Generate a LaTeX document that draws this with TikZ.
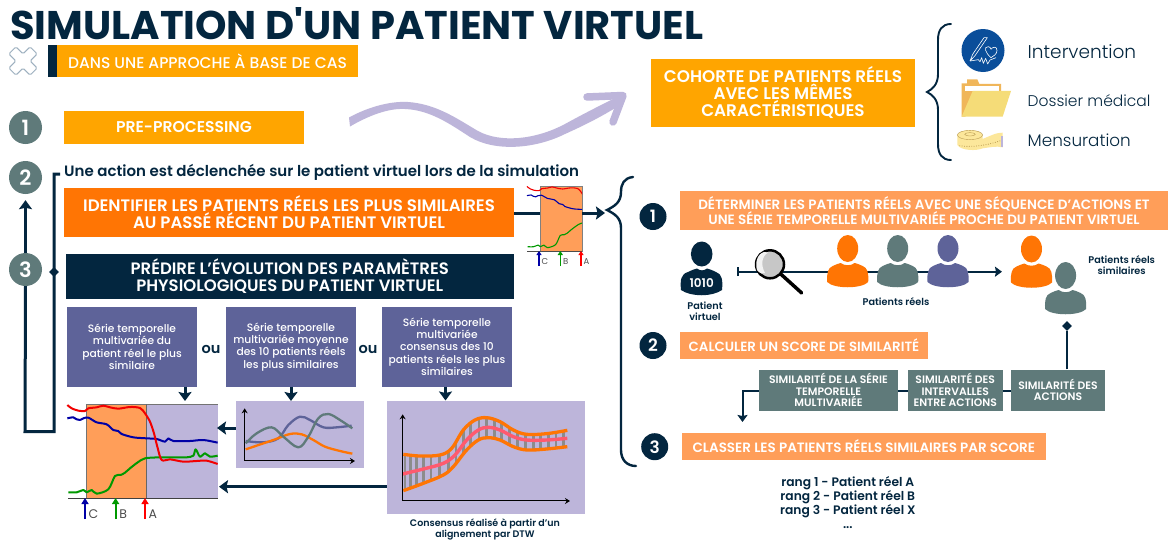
\documentclass[tikz,border=0pt]{standalone}
\usepackage{fontspec}
\setmainfont{Poppins}[BoldFont={Poppins SemiBold}]
\newfontfamily\fmed{Poppins Medium}
\newfontfamily\fhand{Poppins Light}
\newfontfamily\ftitle{Poppins Bold}
\usetikzlibrary{arrows.meta,shapes.geometric}
\definecolor{navy}{HTML}{03263F}
\definecolor{amber}{HTML}{FFA500}
\definecolor{deeporange}{HTML}{FF7504}
\definecolor{peach}{HTML}{FF9E59}
\definecolor{teal2}{HTML}{5F7A7A}
\definecolor{purp}{HTML}{5E6399}
\definecolor{lav}{HTML}{BDB5DA}
\definecolor{pinkr}{HTML}{FF5A6E}
\definecolor{iconblue}{HTML}{0A4E9A}
\definecolor{foldback}{HTML}{F0B65A}
\definecolor{foldfront}{HTML}{F5DC78}
\definecolor{tape}{HTML}{FCE79B}
\definecolor{tapeline}{HTML}{B89A50}
\definecolor{crossc}{HTML}{9DB0BF}
\tikzset{
 x=1pt,y=-1pt,
 conn/.style={draw=navy,line width=3pt},
 arr/.style={conn,-{Stealth[width=13pt,length=9pt,inset=1.5pt]}},
 zm/.style 2 args={xshift=#1pt,yshift=-#2pt,x=.3333pt,y=-.3333pt},
 numa/.style={circle,fill=teal2,text=white,minimum size=33pt,inner sep=0pt,font=\fontsize{21}{21}\selectfont\bfseries},
 numb/.style={circle,fill=navy,text=white,minimum size=27pt,inner sep=0pt,font=\fontsize{17}{17}\selectfont\bfseries},
 dia/.style={diamond,fill=navy,minimum size=10pt,inner sep=0pt},
 box/.style={inner sep=0pt,align=center,text=white},
 ttl/.style={text=navy,inner sep=0pt,align=center,font=\fontsize{#1}{11}\selectfont\bfseries},
 curve/.style={line width=#1,line join=round},
 axis/.style={draw=black,line width=1pt,{Stealth[width=6pt,length=5pt]}-{Stealth[width=6pt,length=5pt]}},
 hand/.style={text=navy,inner sep=0pt,anchor=west,font=\fontsize{#1}{#1}\selectfont\fhand},
}
\newcommand{\bx}[7]{%
 \pgfmathsetmacro\tmpcx{(#2+#4)/2}\pgfmathsetmacro\tmpcy{(#3+#5)/2}%
 \pgfmathsetmacro\tmpw{#4-#2}\pgfmathsetmacro\tmph{#5-#3}%
 \node[box,minimum width=\tmpw pt,minimum height=\tmph pt,#6] (#1) at (\tmpcx,\tmpcy) {#7};}
\newcommand{\person}[3]{% cx, top, colour
 \fill[#3] (#1,#2+13.5) ellipse [x radius=10.5pt,y radius=13.5pt];
 \fill[#3] (#1-20.5,#2+47) .. controls (#1-21,#2+38) and (#1-20,#2+33) .. (#1-15,#2+31)
  .. controls (#1-12,#2+29.5) and (#1-9,#2+28.5) .. (#1-7,#2+28) .. controls (#1-3,#2+31) and (#1+3,#2+31) .. (#1+7,#2+28)
  .. controls (#1+9,#2+28.5) and (#1+12,#2+29.5) .. (#1+15,#2+31) .. controls (#1+20,#2+33) and (#1+21,#2+38) .. (#1+20.5,#2+47)
  .. controls (#1+14,#2+54) and (#1-14,#2+54) .. (#1-20.5,#2+47) -- cycle;}
\newcommand{\ccurves}[1]{%
 \draw[green!60!black,curve=#1] plot[smooth,tension=.5] coordinates {(55,292)(80,292)(100,285)(110,292)(125,285)(140,296)(175,283)(195,243)(212,240)(225,233)(240,220)(262,203)(285,190)(330,187)(380,187)(410,187)(430,182)(437,163)(450,185)(465,175)(480,185)(503,182)};
 \draw[blue!65!black,curve=#1] plot[smooth,tension=.5] coordinates {(52,70)(70,67)(80,73)(90,75)(100,70)(115,68)(140,82)(170,88)(190,105)(205,108)(215,117)(250,127)(290,130)(320,132)(345,140)(355,130)(370,138)(420,138)(460,135)(503,143)};
 \draw[red!95!black,curve=#1] plot[smooth,tension=.5] coordinates {(52,30)(65,40)(85,47)(105,48)(115,40)(140,37)(160,32)(180,37)(205,41)(240,36)(270,39)(285,55)(300,80)(312,115)(322,155)(335,195)(360,193)(400,200)(440,198)(470,197)(503,207)};}
\begin{document}
\begin{tikzpicture}
\useasboundingbox (0,0) rectangle (1168,541);
\fill[white] (0,0) rectangle (1168,541);
% title
\node[anchor=west,inner sep=0pt,text=navy,font=\fontsize{40}{40}\selectfont\ftitle] (title) at (10,24) {SIMULATION D'UN PATIENT VIRTUEL};
% cross
\draw[draw=crossc,fill=white,line width=1pt,rounded corners=1.5pt,rotate around={45:(23,61)}]
 (18,46)--(28,46)--(28,56)--(38,56)--(38,66)--(28,66)--(28,76)--(18,76)--(18,66)--(8,66)--(8,56)--(18,56)--cycle;
% banner
\fill[navy] (48,45) rectangle (57,77);
\bx{banner}{57}{45}{358}{77}{fill=amber,font=\fontsize{15.5}{17}\selectfont\fmed}{DANS UNE APPROCHE À BASE DE CAS}
\node[numa] (n1) at (25.5,127.5) {1};
\bx{pre}{64}{111}{304}{143.5}{fill=amber,font=\fontsize{15.6}{17}\selectfont\bfseries}{PRE-PROCESSING}
\node[numa] (n2) at (25.5,177.5) {2};
\node[numa] (n3) at (25.5,269.5) {3};
\node[anchor=west,inner sep=0pt,text=navy,font=\fontsize{15}{17}\selectfont\bfseries] (action) at (64,172.5) {Une action est déclenchée sur le patient virtuel lors de la simulation};
\bx{identify}{64}{188}{514}{237}{fill=deeporange,font=\fontsize{16.6}{17}\selectfont\bfseries}{IDENTIFIER LES PATIENTS RÉELS LES PLUS SIMILAIRES\\AU PASSÉ RÉCENT DU PATIENT VIRTUEL}
\bx{predict}{65.5}{253.5}{514}{298.5}{fill=navy,font=\fontsize{16.5}{17}\selectfont\bfseries}{PRÉDIRE L'ÉVOLUTION DES PARAMÈTRES\\PHYSIOLOGIQUES DU PATIENT VIRTUEL}
% left loop
\coordinate (la) at (25,431.5); \coordinate (lb) at (54,431.5); \coordinate (lc) at (54,174); \coordinate (ld) at (60,174);
\draw[conn] (n3.south) -- (la) -- (lb) -- (lc) -- (ld);
\node[dia] (d1) at (54,272) {};
\draw[arr,shorten >=6pt] (n3.north) -- (n2.south);
% purple text boxes
\bx{s1}{67}{307}{197}{386.5}{fill=purp,font=\fontsize{10.7}{12.3}\selectfont\fmed}{Série temporelle\\multivariée du\\patient réel le plus\\similaire}
\bx{s2}{226}{307}{356}{386.5}{fill=purp,font=\fontsize{10.7}{12.3}\selectfont\fmed}{Série temporelle\\multivariée moyenne\\des 10 patients réels\\les plus similaires}
\bx{s3}{382}{307}{512}{386.5}{fill=purp,font=\fontsize{10.7}{12.3}\selectfont\fmed}{Série temporelle\\multivariée\\consensus des 10\\patients réels les plus\\similaires}
\node[ttl=14.5] (ou1) at (211,349) {ou};
\node[ttl=14.5] (ou2) at (368,349) {ou};
% big chart
\fill[peach] (86,404) rectangle (146,498);
\fill[lav] (146,404) rectangle (218,498);
\draw[black!55,line width=1pt] (86,498)--(86,404)--(218,404);
\draw[black!60,line width=1pt] (146,404)--(146,498);
\coordinate (bw) at (68,498); \coordinate (be) at (218,498);
\draw[black!75,line width=.8pt] (bw)--(be);
\begin{scope}[zm={50}{395}]
\ccurves{2pt}
\end{scope}
\foreach \xx/\cc/\ll in {85/blue!65!black/C,115.6/green!60!black/B,145/red/A}{
 \coordinate (t\ll) at (\xx,498);
 \coordinate (f\ll) at (\xx,519);
 \draw[draw=\cc,line width=2pt,-{Stealth[width=7pt,length=6pt,inset=0pt]}] (f\ll)--(t\ll);
 \node[anchor=west,inner sep=0pt,text=black!70,font=\fontsize{12.5}{12.5}\selectfont] (l\ll) at (\xx+3.5,514) {\ll};
}
% small chart
\fill[peach] (540,186) rectangle (582,251);
\draw[black!50,line width=.8pt] (540,186) rectangle (582,251);
\coordinate (smallw) at (540,213); \coordinate (smalle) at (582,213);
\draw[conn] (identify.east |- smallw) -- (smallw);
\coordinate (d0) at (605,213);
\draw[arr] (smalle) -- (d0);
\begin{scope}
\clip (520,180) rectangle (582,255);
\begin{scope}[xshift=514.87pt,yshift=-179.56pt,x=.2327pt,y=-.23pt]
\ccurves{1.1pt}
\end{scope}
\end{scope}
\draw[black!70,line width=.7pt] (527,251)--(582,251);
\foreach \xx/\cc/\ll in {539/blue!65!black/C,560.3/green!60!black/B,581/red/A}{
 \coordinate (st\ll) at (\xx,251);
 \coordinate (sf\ll) at (\xx,266);
 \draw[draw=\cc,line width=1.4pt,-{Stealth[width=5pt,length=4pt,inset=0pt]}] (sf\ll)--(st\ll);
 \node[anchor=west,inner sep=0pt,text=black!70,font=\fontsize{8.5}{8.5}\selectfont] (sl\ll) at (\xx+2.5,262) {\ll};
}
% small lavender chart
\bx{mid}{236}{401}{364}{467.5}{fill=lav}{}
\begin{scope}[zm={230}{395}]
\draw[axis] (44,40)--(44,198)--(375,198);
\draw[purp,curve=2.3pt] plot[smooth,tension=.6] coordinates {(47,138)(100,142)(145,130)(175,90)(210,65)(240,75)(280,97)(320,97)(365,92)};
\draw[deeporange,curve=2.3pt] plot[smooth,tension=.6] coordinates {(47,163)(130,135)(180,117)(215,118)(250,135)(285,155)(330,168)(367,176)};
\draw[teal2,curve=2.3pt] plot[smooth,tension=.6] coordinates {(47,145)(80,115)(125,97)(160,125)(205,157)(235,125)(265,70)(295,57)(330,75)(367,100)};
\end{scope}
% big lavender chart
\bx{cons}{387}{400.5}{585}{514}{fill=lav}{}
\begin{scope}[zm={380}{395}]
\begin{scope}
\clip plot[smooth,tension=.6] coordinates {(70,178)(120,183)(180,180)(215,160)(250,105)(285,75)(320,68)(360,80)(400,105)(440,118)(500,116)(562,106)}
 -- plot[smooth,tension=.6] coordinates {(562,155)(500,162)(440,165)(400,155)(360,135)(325,128)(295,135)(260,165)(220,215)(190,240)(130,265)(70,287)} -- cycle;
\foreach \u in {75,92,110,131,153,178,205,228,250,272,297,320,343,365,388,412,437,460,482,505,528,550}
 \draw[black!45,line width=2.8pt] (\u,50)--(\u,300);
\end{scope}
\draw[deeporange,curve=3.3pt] plot[smooth,tension=.6] coordinates {(70,178)(120,183)(180,180)(215,160)(250,105)(285,75)(320,68)(360,80)(400,105)(440,118)(500,116)(562,106)};
\draw[deeporange,curve=3.3pt] plot[smooth,tension=.6] coordinates {(70,287)(130,265)(190,240)(220,215)(260,165)(295,135)(325,128)(360,135)(400,155)(440,165)(500,162)(562,155)};
\draw[pinkr,curve=3.4pt] plot[smooth,tension=.6] coordinates {(68,237)(130,222)(190,205)(225,180)(260,135)(295,105)(325,97)(360,105)(400,125)(440,135)(500,135)(562,130)};
\draw[axis] (68,58)--(68,318)--(570,318);
\end{scope}
\node[ttl=9.5] (caption) at (485,529.5) {Consensus réalisé à partir d'un\\alignement par DTW};
% arrows down
\coordinate (ta) at (185,401); \coordinate (fa) at (185,386.5);
\draw[arr] (fa) -- (ta);
\coordinate (tm) at (291,401);
\draw[arr] (s2.south) -- (tm);
\coordinate (tb) at (445.5,400.5); \coordinate (fb) at (445.5,386.5);
\draw[arr] (fb) -- (tb);
\coordinate (h1) at (217,428);
\draw[arr] (mid.west |- h1) -- (h1);
\coordinate (h2) at (219,486.7);
\draw[arr] (cons.west |- h2) -- (h2);
% swoosh
\fill[lav] (349,117.5) .. controls (370,106) and (392,101) .. (408,102) .. controls (436,104) and (456,118) .. (478,131)
 .. controls (500,143) and (535,140) .. (565,124) .. controls (585,113) and (605,103) .. (619,96)
 -- (623,103) .. controls (605,115) and (585,125) .. (565,134) .. controls (535,149) and (495,152) .. (470,137)
 .. controls (450,124) and (430,110) .. (405,109) .. controls (388,108) and (368,116) .. (350,126.5) -- cycle;
\draw[lav,line width=7.5pt,line join=round,line cap=round] (587,97) -- (623,95.5) -- (613,122);
% cohort
\bx{cohort}{651}{59}{915}{126.5}{fill=amber,font=\fontsize{16.8}{17}\selectfont\bfseries}{COHORTE DE PATIENTS RÉELS\\AVEC LES MÊMES\\CARACTÉRISTIQUES}
% brace 2
\draw[navy,line width=1.9pt,line cap=round] (951,24) .. controls (942,24) and (938,30) .. (938,40) -- (938,74) .. controls (938,84) and (933,89) .. (927,92)
 .. controls (933,95) and (938,100) .. (938,110) -- (938,144) .. controls (938,154) and (942,160) .. (951,160);
% icons
\node[circle,fill=iconblue,minimum size=43pt,inner sep=0pt] (ic1) at (983,50.5) {};
\begin{scope}[zm={920}{15}]
\draw[white,line width=.6pt,line join=round] (192,68)--(202,68)--(165,122)--(150,138)--(158,118)--cycle;
\draw[white,line width=.6pt,line join=round] (213,128) .. controls (195,112) and (190,95) .. (205,95) .. controls (210,95) and (212,99) .. (213,103) .. controls (216,96) and (232,92) .. (231,107) .. controls (230,118) and (220,124) .. (213,128);
\draw[white,line width=.6pt,line join=round] (150,138)--(175,134)--(180,140)--(185,128)--(190,145)--(197,130)--(203,147)--(210,135)--(228,128);
% folder
\fill[foldback] (125,205)--(141,205)--(141,193)--(172,193)--(178,207)--(243,207)--(243,232)--(135,305)--(125,305)--cycle;
\fill[white] (135,212)--(238,212)--(238,228)--(135,228)--cycle;
\fill[foldfront] (158,228)--(273,228)--(248,305)--(125,305)--cycle;
% tape
\fill[tape] (112,362) .. controls (112,340) and (188,340) .. (188,362) -- (188,372) .. controls (205,365) and (230,352) .. (248,353) -- (248,397) .. controls (230,392) and (205,398) .. (188,400) .. controls (170,408) and (125,408) .. (112,390) -- cycle;
\draw[tapeline,line width=.4pt] (150,360) ellipse [x radius=12.6pt,y radius=4.6pt];
\draw[tapeline,line width=.4pt] (150,358) ellipse [x radius=5.3pt,y radius=1.7pt];
\draw[tapeline,line width=.8pt,dash pattern=on .8pt off 1.6pt] (118,392) .. controls (150,398) and (200,392) .. (242,377);
\fill[lav] (243,362) rectangle (250,397);
\end{scope}
\node[hand=18.5] (tint) at (1027.5,52) {Intervention};
\node[hand=15.5] (tdos) at (1027.5,100.7) {Dossier médical};
\node[hand=16.8] (tmen) at (1027.5,140.7) {Mensuration};
% big brace
\draw[navy,line width=2.4pt,line cap=round] (633,177) .. controls (624,178) and (621,184) .. (621,192) .. controls (621,202) and (615,206) .. (607,210)
 .. controls (615,214) and (621,218) .. (621,228) -- (621,450) .. controls (621,460) and (627,466) .. (636,466);
% right section
\node[numb] (r1) at (653,216.5) {1};
\bx{rb1}{680}{191}{1168}{230}{fill=peach,font=\fontsize{13.5}{14}\selectfont\bfseries}{DÉTERMINER LES PATIENTS RÉELS AVEC UNE SÉQUENCE D'ACTIONS ET\\UNE SÉRIE TEMPORELLE MULTIVARIÉE PROCHE DU PATIENT VIRTUEL}
% search line
\coordinate (sa) at (737,271.7);
\coordinate (sb) at (1002,271.7);
\draw[draw=navy,line width=2pt,{Bar[width=9pt]}-{Stealth[width=10pt,length=7pt,inset=1pt]}] (sa) -- (sb);
% virtual patient
\fill[navy] (701.7,254) ellipse [x radius=10.8pt,y radius=12.5pt];
\fill[navy] (681,290) .. controls (680,280) and (681,274) .. (688,272) .. controls (692,270) and (695,269) .. (697,268.5) .. controls (700,271) and (704,271) .. (707,268.5) .. controls (709,269) and (712,270) .. (716,272) .. controls (722,274) and (723,280) .. (722,290) .. controls (712,297) and (691,297) .. (681,290) -- cycle;
\node[inner sep=0pt,text=white,font=\fontsize{12}{12}\selectfont\bfseries] (code) at (701.7,283) {1010};
\node[ttl=9.7] (pv) at (705,311) {Patient\\virtuel};
% magnifier
\coordinate (mg) at (770,264.3); \coordinate (mh) at (801.7,293);
\draw[black,line width=3.5pt,line cap=round] (mg) -- (mh);
\node[circle,draw=black,line width=2.5pt,fill=black!22,minimum size=28pt,inner sep=0pt] (lens) at (mg) {};
\fill[black!5] (764,252) .. controls (757,254) and (755,263) .. (757,270) .. controls (760,274) and (763,274) .. (765,273) .. controls (761,266) and (761,257) .. (768,252.5) -- cycle;
\person{847.7}{235}{deeporange}
\person{897.7}{235}{teal2}
\person{948}{235}{purp}
\node[ttl=9.7] (pr) at (896,301.7) {Patients réels};
\person{1031.5}{235.5}{deeporange}
\person{1065.6}{262}{teal2}
\node[ttl=9.7] (prs) at (1121.7,265) {Patients réels\\similaires};
\node[numb] (r2) at (653,345.5) {2};
\bx{rb2}{680}{332}{928}{359}{fill=peach,font=\fontsize{13.35}{15}\selectfont\bfseries}{CALCULER UN SCORE DE SIMILARITÉ}
\bx{ta}{759}{369.5}{898}{410.5}{fill=teal2,font=\fontsize{10.8}{11.5}\selectfont\bfseries}{SIMILARITÉ DE LA SÉRIE\\TEMPORELLE\\MULTIVARIÉE}
\bx{tb}{908}{369.5}{1002.5}{410.5}{fill=teal2,font=\fontsize{10.8}{11.5}\selectfont\bfseries}{SIMILARITÉ DES\\INTERVALLES\\ENTRE ACTIONS}
\bx{tc}{1011}{369.5}{1105}{410.5}{fill=teal2,font=\fontsize{10.8}{11.5}\selectfont\bfseries}{SIMILARITÉ DES\\ACTIONS}
\node[dia] (d2) at (1067,326) {};
\draw[conn,line width=2pt] (tc.north -| d2) -- (d2);
\coordinate (yl) at (0,390.7);
\draw[conn,line width=2pt] (tc.west |- yl) -- (tb.east |- yl);
\draw[conn,line width=2pt] (tb.west |- yl) -- (ta.east |- yl);
\coordinate (el) at (742.5,390.7); \coordinate (et) at (742.5,422);
\draw[arr,line width=2pt,-{Stealth[width=10pt,length=7pt,inset=1pt]}] (ta.west |- yl) -- (el) -- (et);
\node[numb] (r3) at (654.7,446.7) {3};
\bx{rb3}{682}{433}{1045.5}{460}{fill=peach,font=\fontsize{13.5}{16}\selectfont\bfseries}{CLASSER LES PATIENTS RÉELS SIMILAIRES PAR SCORE}
\node[text=navy,inner sep=0pt,align=center,font=\fontsize{12.3}{14}\selectfont\bfseries] (rang) at (847.8,503) {rang 1 - Patient réel A\\rang 2 - Patient réel B\\rang 3 - Patient réel X\\...};
\end{tikzpicture}
\end{document}
